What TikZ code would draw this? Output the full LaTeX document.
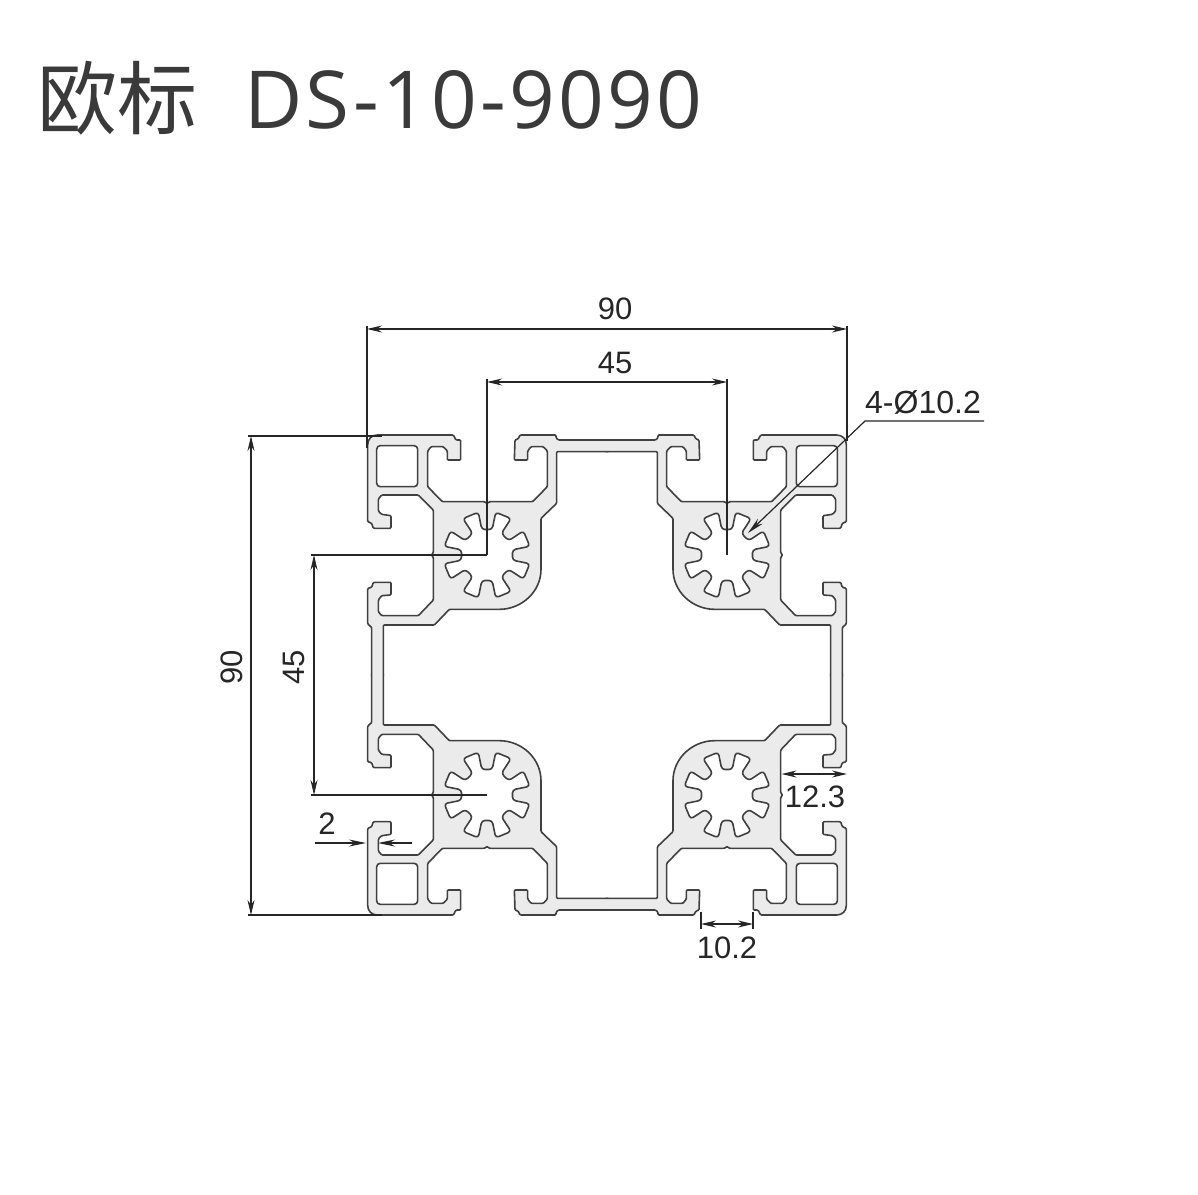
\documentclass[tikz,border=0pt]{standalone}
\usepackage{fontspec}
\setmainfont{Liberation Sans}
\newfontfamily\cjkfont{Noto Sans CJK SC}
\newfontfamily\titlefont[LetterSpace=4.2]{Open Sans}
\usetikzlibrary{arrows.meta}
\definecolor{ink}{HTML}{3A3A3A}
\definecolor{dimink}{HTML}{262626}
\definecolor{metal}{HTML}{EBEBEB}
\definecolor{edge}{HTML}{404040}
\tikzset{
  profedge/.style={draw=edge,line width=1.6pt,line join=round,rounded corners=1pt},
  profskin/.style={fill=metal,rounded corners=1pt},
  profhole/.style={draw=edge,fill=white,line width=1.6pt,line join=round},
  dimline/.style={draw=dimink,line width=1.2pt},
  extline/.style={draw=dimink,line width=1.1pt},
  dimarrow/.style={dimline,-{Stealth[length=17pt,width=7pt]}},
  dimarrows/.style={dimline,{Stealth[length=15pt,width=7pt]}-{Stealth[length=15pt,width=7pt]}},
  dimtext/.style={text=dimink,font=\fontsize{31}{33}\selectfont,inner sep=0pt},
}
\newcommand{\outerpart}{(760,45) -- (610,45) -- (603,38) -- (603,30) -- (495,30) -- (490,41) -- (480,45) -- (478,105) -- (518,105) -- (518,78) -- (528,65) -- (565,65) -- (577,78) -- (577,185) -- (533,230) -- (403,230) -- (396,236) -- (389,230) -- (262,230) -- (218,185) -- (218,78) -- (228,65) -- (265,65) -- (277,78) -- (277,105) -- (317,105) -- (317,45) -- (303,45) -- (295,30) -- (70,30) .. controls (50,30) and (38,42) .. (38,62) -- (38,290) -- (50,295) -- (55,310) -- (108,310) -- (108,272) -- (80,268) -- (70,258) -- (70,222) -- (80,210) -- (190,210) -- (235,255) -- (235,383) -- (229,390) -- (235,397) -- (235,525) -- (190,572) -- (80,572) -- (70,560) -- (70,525) -- (80,512) -- (108,510) -- (108,472) -- (55,472) -- (50,487) -- (38,490) -- (38,597) -- (50,607) -- (50,754)}
\newcommand{\innerpart}{(85,754) -- (85,600) -- (238,600) -- (283,553) -- (430,553) .. controls (500,553) and (558,500) .. (558,430) -- (558,280) -- (605,235) -- (605,80) -- (760,80)}
\newcommand{\quadrant}[2]{%
  \begin{scope}[shift={(607,675)},xscale=#1,yscale=#2]
  \begin{scope}[x=0.33333pt,y=-0.33333pt,shift={(-756,-750)}]
    \path[profskin] \outerpart -- \innerpart -- cycle;
    \path[profedge] \outerpart;
    \path[profedge] \innerpart;
    \path[profhole,rounded corners=3.5pt] (65,62) rectangle (188,185);
    \begin{scope}[shift={(396,390)}]
      \path[profhole,rounded corners=3.2pt] (11.5:78) -- (11.5:131) -- (33.5:131)
        \foreach \k in {1,...,7}{ -- ({45*\k-11.5}:78) -- ({45*\k+11.5}:78) -- ({45*\k+11.5}:131) -- ({45*\k+33.5}:131) }
        -- (-11.5:78) -- cycle;
    \end{scope}
  \end{scope}
  \end{scope}}
\begin{document}
\begin{tikzpicture}[x=1pt,y=-1pt]
\useasboundingbox (0,0) rectangle (1198,1194);
\fill[white] (0,0) rectangle (1198,1194);
\node[anchor=base west,inner sep=0pt,text=ink] (title) at (37,128)
  {\fontsize{80}{90}\selectfont{\cjkfont 欧标}\hspace{47pt}{\titlefont DS-10-9090}};
\quadrant{1}{1}
\quadrant{-1}{1}
\quadrant{1}{-1}
\quadrant{-1}{-1}

% dimension end points
\coordinate (t90a) at (367,329); \coordinate (t90b) at (847,329);
\coordinate (t90ae) at (367,326); \coordinate (t90af) at (367,448);
\coordinate (t90be) at (847,326); \coordinate (t90bf) at (847,441);
\coordinate (t45a) at (487,382); \coordinate (t45b) at (727,382);
\coordinate (t45ae) at (487,379); \coordinate (t45af) at (487,555);
\coordinate (t45be) at (727,379); \coordinate (t45bf) at (727,555);
\coordinate (l90a) at (251,436); \coordinate (l90b) at (251,915);
\coordinate (l90ae) at (248,436); \coordinate (l90af) at (382,436);
\coordinate (l90be) at (248,915); \coordinate (l90bf) at (382,915);
\coordinate (l45a) at (314,555); \coordinate (l45b) at (314,795);
\coordinate (l45ae) at (311,555); \coordinate (l45af) at (487,555);
\coordinate (l45be) at (311,795); \coordinate (l45bf) at (487,795);
\coordinate (d1) at (748,533); \coordinate (d2) at (865,421); \coordinate (d3) at (984,421);
\coordinate (w1) at (315,843); \coordinate (w2) at (366,843);
\coordinate (w3) at (412,843); \coordinate (w4) at (378,843);
\coordinate (s1) at (781.5,774); \coordinate (s2) at (847,774);
\coordinate (b1) at (701,924); \coordinate (b2) at (753,924);
\coordinate (b1e) at (701,912); \coordinate (b1f) at (701,929);
\coordinate (b2e) at (753,912); \coordinate (b2f) at (753,929);

\draw[extline] (t90ae) -- (t90af);
\draw[extline] (t90be) -- (t90bf);
\draw[extline] (t45ae) -- (t45af);
\draw[extline] (t45be) -- (t45bf);
\draw[extline] (l90ae) -- (l90af);
\draw[extline] (l90be) -- (l90bf);
\draw[extline] (l45ae) -- (l45af);
\draw[extline] (l45be) -- (l45bf);
\draw[extline] (b1e) -- (b1f);
\draw[extline] (b2e) -- (b2f);

\draw[dimarrows] (t90a) -- (t90b);
\draw[dimarrows] (t45a) -- (t45b);
\draw[dimarrows] (l90a) -- (l90b);
\draw[dimarrows] (l45a) -- (l45b);
\draw[dimarrows] (s1) -- (s2);
\draw[dimarrows] (b1) -- (b2);
\draw[dimarrow] (w1) -- (w2);
\draw[dimarrow] (w3) -- (w4);
\draw[dimarrow] (d3) -- (d2) -- (d1);

\node[dimtext] (n90t) at (615,309) {90};
\node[dimtext] (n45t) at (615,363) {45};
\node[dimtext,rotate=90] (n90l) at (232,667) {90};
\node[dimtext,rotate=90] (n45l) at (294,667) {45};
\node[dimtext,font=\fontsize{32}{34}\selectfont] (nd) at (923,402) {4-Ø10.2};
\node[dimtext] (n2) at (327,824) {2};
\node[dimtext] (n123) at (815,797) {12.3};
\node[dimtext] (n102) at (727,948) {10.2};
\end{tikzpicture}
\end{document}
